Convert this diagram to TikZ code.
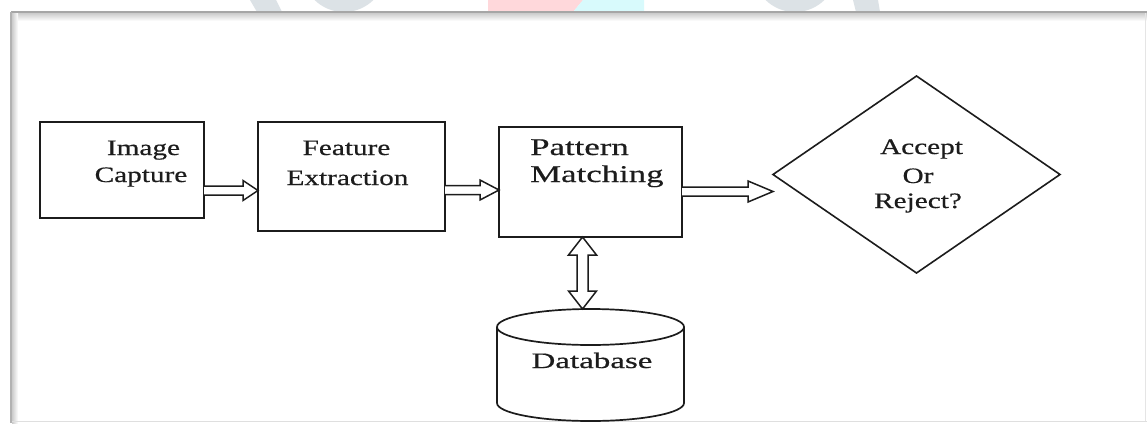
\documentclass[tikz,border=0pt]{standalone}
\usepackage{fontspec}
\setmainfont{Liberation Serif}
\newfontfamily\bodyfont{Liberation Serif}[FakeStretch=1.33,FakeBold=0.5]
\newfontfamily\patfont{Liberation Serif}[FakeStretch=1.45,FakeBold=0.5]
\newfontfamily\dbfont{Liberation Serif}[FakeStretch=1.5,FakeBold=0.5]
\usetikzlibrary{calc,shapes.geometric}
\definecolor{wmgray}{HTML}{DCE2E6}
\definecolor{wmpink}{HTML}{FFD8DB}
\definecolor{wmcyan}{HTML}{D8FAFC}
\definecolor{ink}{HTML}{1C1C1C}
\newcommand\harrow[5]{%
 \draw[arr] let \p1=(#1.east), \p2=(#2.west) in
  (\x1,-#3pt+4.5pt) -- (\x2-#4pt,-#3pt+4.5pt) -- (\x2-#4pt,-#3pt+#5pt) -- (\x2,-#3pt)
  -- (\x2-#4pt,-#3pt-#5pt) -- (\x2-#4pt,-#3pt-4.5pt) -- (\x1,-#3pt-4.5pt);}
\newcommand\varrow[6]{%
 \draw[arr] let \p1=(#1.south), \p2=(#2.north) in
  (#3pt,\y1) -- (#3pt+#6pt,\y1-#5pt) -- (#3pt+#4pt,\y1-#5pt) -- (#3pt+#4pt,\y2+#5pt)
  -- (#3pt+#6pt,\y2+#5pt) -- (#3pt,\y2) -- (#3pt-#6pt,\y2+#5pt) -- (#3pt-#4pt,\y2+#5pt)
  -- (#3pt-#4pt,\y1-#5pt) -- (#3pt-#6pt,\y1-#5pt) -- cycle;}
\begin{document}
\begin{tikzpicture}[x=1pt,y=-1pt,
  box/.style={draw=ink,line width=1.9pt,inner sep=0,outer sep=0},
  shp/.style={draw=ink,line width=1.7pt},
  arr/.style={draw=ink,line width=1.5pt,fill=white,line join=miter},
  lbl/.style={font=\bodyfont\fontsize{22}{26}\selectfont,text=ink,inner sep=0,anchor=base},
  plbl/.style={font=\patfont\fontsize{24}{28}\selectfont,text=ink,inner sep=0,anchor=base west},
  dlbl/.style={font=\dbfont\fontsize{22}{26}\selectfont,text=ink,inner sep=0,anchor=base}]
\useasboundingbox (0,0) rectangle (1147,423);
\fill[white] (0,0) rectangle (1147,423);
% watermark fragments above the frame
\begin{scope}
\clip (0,0) rectangle (1147,11.5);
\fill[wmgray] (250,0) -- (276,0) -- (282,12) -- (257,12) -- cycle;
\draw[wmgray,line width=14pt] (344,-30) circle[radius=35pt];
\draw[wmgray,line width=14pt] (795,-30) circle[radius=35pt];
\fill[wmgray] (853,0) -- (878,0) -- (880,12) -- (856,12) -- cycle;
\fill[wmpink] (488,0) -- (583,0) -- (573,12) -- (488,12) -- cycle;
\fill[wmcyan] (583,0) -- (644,0) -- (644,12) -- (573,12) -- cycle;
\end{scope}
% frame
\shade[top color=gray!45,bottom color=white] (12,12) rectangle (1147,21);
\shade[left color=gray!40,right color=white] (12,12) rectangle (18,423);
\draw[gray!70,line width=2pt] (11,12) -- (1147,12);
\draw[gray!60,line width=2.2pt] (11,12) -- (11,423);
\draw[gray!25,line width=1pt] (12,421) -- (1147,421);
\draw[gray!20,line width=1pt] (1145,13) -- (1145,421);
% blocks
\node[box,minimum width=164pt,minimum height=96pt] (b1) at (122,170) {};
\node[box,minimum width=187pt,minimum height=109pt] (b2) at (351.5,176.5) {};
\node[box,minimum width=183pt,minimum height=110pt] (b3) at (590.5,182) {};
\node[draw=ink,line width=1.6pt,diamond,minimum width=287pt,minimum height=197pt,inner sep=0,outer sep=0] (dec) at (916.5,174.5) {};
\node[inner sep=0,outer sep=0,minimum width=187pt,minimum height=112pt] (db) at (590.5,365) {};
\draw[shp] (db.north west |- 0,327) -- (db.west |- 0,403) arc[start angle=180,end angle=360,x radius=93.5pt,y radius=18pt] -- (db.east |- 0,327);
\draw[shp] (590.5,327) ellipse[x radius=93.5pt,y radius=18pt];
% labels
\node[lbl] (t1a) at (143.5,155) {Image};
\node[lbl] (t1b) at (141,182) {Capture};
\node[lbl] (t2a) at (346.5,155) {Feature};
\node[lbl] (t2b) at (347.5,185) {Extraction};
\node[plbl] (t3a) at (530,155) {Pattern};
\node[plbl] (t3b) at (530,182) {Matching};
\node[lbl] (t4a) at (921.5,154) {Accept};
\node[lbl] (t4b) at (918,183) {Or};
\node[lbl] (t4c) at (918,208) {Reject?};
\node[dlbl] (t5) at (592,368) {Database};
% connectors
\harrow{b1}{b2}{190.5}{15}{10}
\harrow{b2}{b3}{190}{19}{10}
\harrow{b3}{dec}{191.5}{25}{10.5}
\varrow{b3}{db}{582.5}{5.5}{18}{14}
\end{tikzpicture}
\end{document}
